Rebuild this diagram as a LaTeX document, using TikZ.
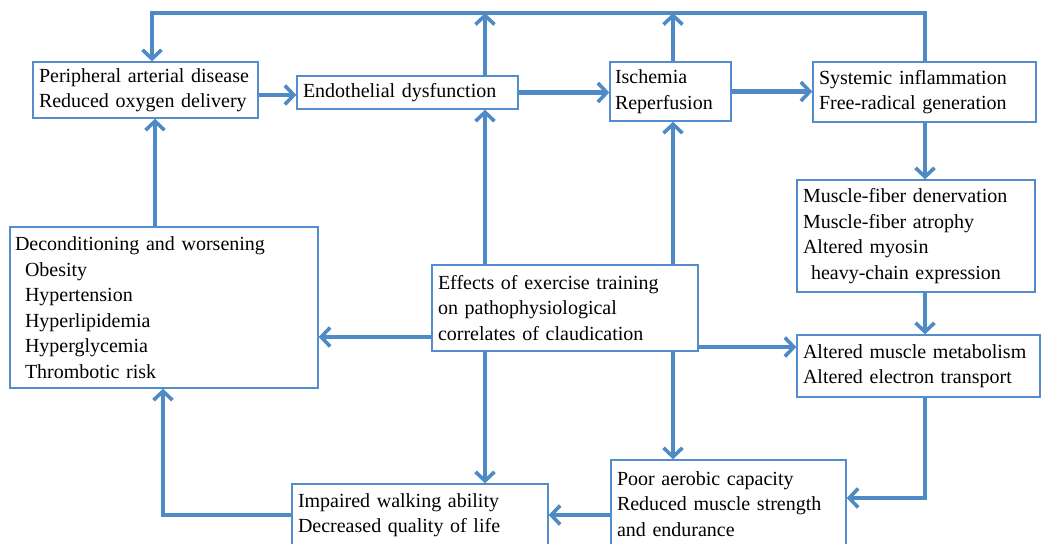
\documentclass[tikz,border=0pt]{standalone}
\usepackage{fontspec}
\setmainfont{Liberation Serif}
\usepackage{tikz}
\usetikzlibrary{arrows.meta, positioning, calc}
\definecolor{flowblue}{RGB}{78, 138, 198}
\definecolor{edgeblue}{RGB}{84, 141, 205}

\begin{document}
\begin{tikzpicture}[x=1pt, y=-1pt,
  box/.style={draw=edgeblue, line width=1.4pt, fill=white, align=left, inner sep=0pt, anchor=center,
    font=\fontsize{20}{25.5}\selectfont},
  flow/.style={flowblue, line width=4.2pt, -{Straight Barb[length=9pt, width=19pt, line width=3.6pt]}}]
\useasboundingbox (0,0) rectangle (1048,543);

\node[box, minimum width=225pt, minimum height=56pt, text width=213pt] (pad) at (145.5,90) {Peripheral arterial disease\\Reduced oxygen delivery};
\node[box, minimum width=221pt, minimum height=33pt, text width=209pt] (endo) at (407.5,92.5) {Endothelial dysfunction};
\node[box, minimum width=121pt, minimum height=59pt, text width=111pt] (isch) at (670.5,91.5) {Ischemia\\Reperfusion};
\node[box, minimum width=223pt, minimum height=60pt, text width=211pt] (syst) at (924.5,92) {Systemic inflammation\\Free-radical generation};
\node[box, minimum width=238pt, minimum height=112pt, text width=226pt] (fiber) at (916,236) {Muscle-fiber denervation\\Muscle-fiber atrophy\\Altered myosin\\\hspace{8pt}heavy-chain expression};
\node[box, minimum width=243pt, minimum height=62pt, text width=231pt] (metab) at (918.5,366) {Altered muscle metabolism\\Altered electron transport};
\node[box, minimum width=266pt, minimum height=86pt, text width=254pt] (effects) at (565,308) {Effects of exercise training\\on pathophysiological\\correlates of claudication};
\node[box, minimum width=308pt, minimum height=161pt, text width=298pt] (decond) at (164,307.5) {Deconditioning and worsening\\\hspace{10pt}Obesity\\\hspace{10pt}Hypertension\\\hspace{10pt}Hyperlipidemia\\\hspace{10pt}Hyperglycemia\\\hspace{10pt}Thrombotic risk};
\node[box, minimum width=256pt, minimum height=62pt, text width=244pt] (walk) at (420,515) {Impaired walking ability\\Decreased quality of life};
\node[box, minimum width=235pt, minimum height=88pt, text width=223pt] (poor) at (728.5,504) {Poor aerobic capacity\\Reduced muscle strength\\and endurance};

% route points
\coordinate (topl) at (152,13);
\coordinate (c1) at (485,13);
\coordinate (c2) at (673,13);
\coordinate (rcol) at (925,0);
\coordinate (lcol) at (163,0);
\coordinate (ucol) at (155,0);
\coordinate (r1) at (0,95);
\coordinate (r2) at (0,337);
\coordinate (r3) at (0,347);
\coordinate (r4) at (0,498);
\coordinate (r5) at (0,515);

\draw[flow] (syst.north -| rcol) |- (topl) -- (pad.north -| topl);
\draw[flow] (endo.north -| c1) -- (c1);
\draw[flow] (isch.north -| c2) -- (c2);

\draw[flow] (pad.east |- r1) -- (endo.west |- r1);
\draw[flow] (endo.east) -- (isch.west |- endo.east);
\draw[flow] (isch.east) -- (syst.west |- isch.east);

\draw[flow] (syst.south -| rcol) -- (fiber.north -| rcol);
\draw[flow] (fiber.south -| rcol) -- (metab.north -| rcol);
\draw[flow] (metab.south -| rcol) |- (poor.east |- r4);
\draw[flow] (poor.west |- r5) -- (walk.east |- r5);
\draw[flow] (walk.west |- r5) -| (decond.south -| lcol);
\draw[flow] (decond.north -| ucol) -- (pad.south -| ucol);

\draw[flow] (effects.north -| c1) -- (endo.south -| c1);
\draw[flow] (effects.north -| c2) -- (isch.south -| c2);
\draw[flow] (effects.south -| c1) -- (walk.north -| c1);
\draw[flow] (effects.south -| c2) -- (poor.north -| c2);
\draw[flow] (effects.west |- r2) -- (decond.east |- r2);
\draw[flow] (effects.east |- r3) -- (metab.west |- r3);

\end{tikzpicture}
\end{document}
